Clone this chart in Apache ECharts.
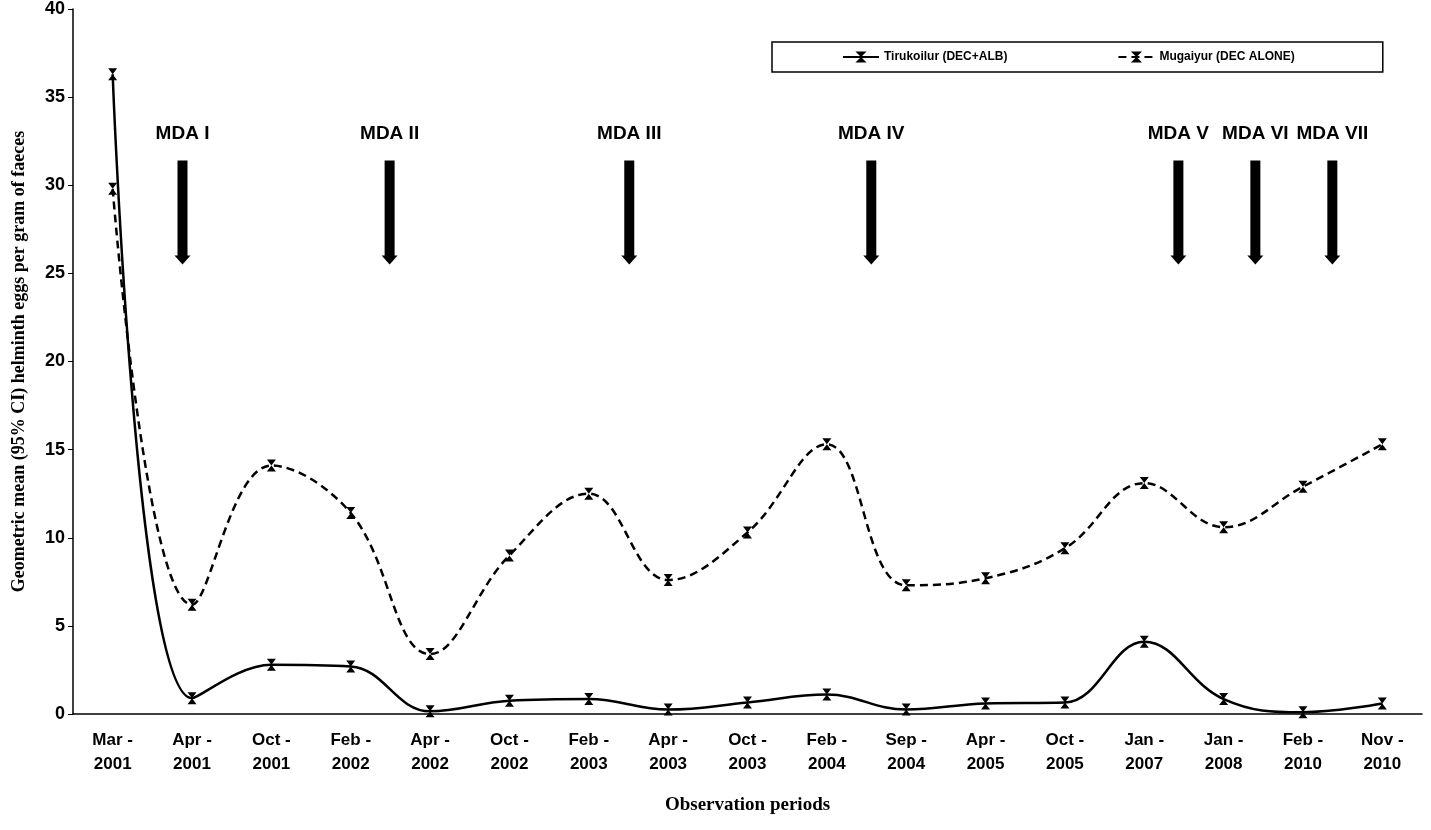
<!DOCTYPE html>
<html>
<head>
<meta charset="utf-8">
<script src="https://cdn.jsdelivr.net/npm/echarts@6/dist/echarts.min.js"></script>
<style>html,body{margin:0;padding:0;background:#fff}#chart{width:1431px;height:830px}</style>
</head>
<body>
<div id="chart"></div>
<script>
var periods = ['Mar -\n2001','Apr -\n2001','Oct -\n2001','Feb -\n2002','Apr -\n2002','Oct -\n2002','Feb -\n2003','Apr -\n2003','Oct -\n2003','Feb -\n2004','Sep -\n2004','Apr -\n2005','Oct -\n2005','Jan -\n2007','Jan -\n2008','Feb -\n2010','Nov -\n2010'];
var tirukoilur = [36.3,0.9,2.8,2.7,0.15,0.75,0.85,0.25,0.65,1.1,0.25,0.6,0.65,4.1,0.85,0.1,0.6];
var mugaiyur = [29.8,6.2,14.1,11.4,3.4,9.0,12.5,7.6,10.3,15.3,7.3,7.7,9.4,13.1,10.6,12.9,15.3];
var mdaNames = ['MDA I','MDA II','MDA III','MDA IV','MDA V','MDA VI','MDA VII'];
var mdaPos = [0.88,3.49,6.51,9.56,13.43,14.40,15.37];

var bowtie = 'path://M0,0 L10,0 L5,6 L10,12 L0,12 L5,6 Z';
var chart = echarts.init(document.getElementById('chart'));
chart.setOption({
    animation: false,
    grid: {left: 73, right: 9, top: 8, bottom: 116},
    legend: {
        top: 42, left: 772,
        padding: [9, 88, 9, 70], itemGap: 110,
        borderColor: '#000', borderWidth: 1.5,
        itemWidth: 36,
        textStyle: {fontFamily: 'Liberation Sans', fontWeight: 'bold', fontSize: 12, color: '#000'},
        data: ['Tirukoilur (DEC+ALB)', 'Mugaiyur (DEC ALONE)']
    },
    xAxis: [{
        type: 'category', data: periods,
        name: 'Observation periods', nameLocation: 'middle', nameGap: 82,
        nameTextStyle: {fontFamily: 'Liberation Serif', fontWeight: 'bold', fontSize: 19, color: '#000'},
        axisLine: {lineStyle: {color: '#000', width: 1.5}},
        axisTick: {show: false},
        axisLabel: {fontFamily: 'Liberation Sans', fontWeight: 'bold', fontSize: 17, color: '#000', margin: 14, lineHeight: 24}
    }, {
        type: 'value', min: -0.5, max: 16.5, show: false
    }],
    yAxis: {
        type: 'value', min: 0, max: 40, interval: 5,
        name: 'Geometric mean (95% CI) helminth eggs per gram of faeces',
        nameLocation: 'middle', nameGap: 45,
        nameTextStyle: {fontFamily: 'Liberation Serif', fontWeight: 'bold', fontSize: 18, color: '#000'},
        axisLine: {show: true, onZero: false, lineStyle: {color: '#000', width: 1.5}},
        axisTick: {show: true, lineStyle: {color: '#000'}},
        splitLine: {show: false},
        axisLabel: {fontFamily: 'Liberation Sans', fontWeight: 'bold', fontSize: 18, color: '#000'}
    },
    series: [{
        name: 'Tirukoilur (DEC+ALB)', type: 'line', smooth: 0.4, data: tirukoilur,
        symbol: bowtie, symbolSize: [9, 12],
        lineStyle: {color: '#000', width: 2.5}, itemStyle: {color: '#000'}
    }, {
        name: 'Mugaiyur (DEC ALONE)', type: 'line', smooth: 0.4, data: mugaiyur,
        symbol: bowtie, symbolSize: [9, 12],
        lineStyle: {color: '#000', width: 2.5, type: [8, 5]}, itemStyle: {color: '#000'}
    }, {
        type: 'custom', xAxisIndex: 1, silent: true,
        data: mdaPos.map(function (p, i) { return [p, i]; }),
        renderItem: function (params, api) {
            var top = api.coord([api.value(0), 31.4]);
            var bot = api.coord([api.value(0), 25.5]);
            var lab = api.coord([api.value(0), 32.4]);
            var x = top[0];
            return {type: 'group', children: [
                {type: 'rect', shape: {x: x - 5, y: top[1], width: 10, height: bot[1] - top[1] - 8}, style: {fill: '#000'}},
                {type: 'polygon', shape: {points: [[x - 8, bot[1] - 9], [x + 8, bot[1] - 9], [x, bot[1]]]}, style: {fill: '#000'}},
                {type: 'text', x: x, y: lab[1], style: {text: mdaNames[api.value(1)], fill: '#000', align: 'center', verticalAlign: 'bottom', font: 'bold 19px "Liberation Sans"'}}
            ]};
        }
    }]
});
</script>
</body>
</html>
